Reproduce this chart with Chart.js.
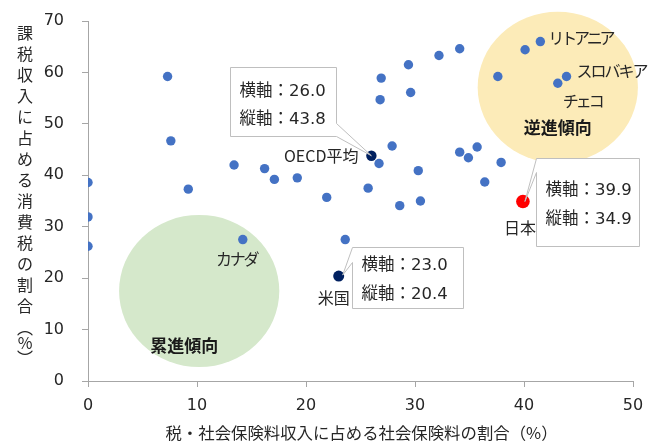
<!DOCTYPE html>
<html lang="ja">
<head>
<meta charset="utf-8">
<script src="https://cdn.jsdelivr.net/npm/chart.js@4.4.1/dist/chart.umd.min.js"></script>
<style>
  html, body { margin: 0; padding: 0; background: #fff; }
  #wrap { width: 659px; height: 442px; position: relative; }
</style>
</head>
<body>
<div id="wrap"><canvas id="chart"></canvas></div>
<script>
// 税・社会保険料収入に占める社会保険料の割合 (x) と 課税収入に占める消費税の割合 (y)
const socialShare = [0, 0, 0, 7.3, 7.6, 9.2, 13.4, 16.2, 17.1, 19.2, 21.9, 14.2, 23.6, 26.7, 25.7,
  26.9, 26.8, 29.4, 29.6, 32.2, 34.1, 27.9, 30.3, 30.5, 28.6, 34.1, 34.9, 35.7, 37.9, 36.4,
  37.6, 40.1, 41.5, 43.1, 43.9];
const consumptionShare = [38.6, 31.9, 26.2, 59.2, 46.7, 37.3, 42.0, 41.3, 39.2, 39.5, 35.7, 27.5, 27.5, 42.3, 37.5,
  58.9, 54.7, 61.5, 56.1, 63.3, 64.6, 45.7, 40.9, 35.0, 34.1, 44.5, 43.4, 45.5, 42.5, 38.7,
  59.2, 64.4, 66.0, 57.9, 59.2];
const countryNames = ['', '', '', '', '', '', '', '', '', '', '', 'カナダ', '', '', '',
  '', '', '', '', '', '', '', '', '', '', '', '', '', '', '',
  '', '', 'リトアニア', 'チェコ', 'スロバキア'];

const oecdAvg = { x: 26.0, y: 43.8 };
const usa = { x: 23.0, y: 20.4 };
const japan = { x: 39.9, y: 34.9 };

const xTicks = [0, 10, 20, 30, 40, 50];
const yTicks = [0, 10, 20, 30, 40, 50, 60, 70];

const yTitle = '課税収入に占める消費税の割合︵%︶';
const xTitle = '税・社会保険料収入に占める社会保険料の割合（%）';

const FONT_JP = '"Noto Sans CJK JP", "Noto Sans", sans-serif';
const FONT_NUM = '"DejaVu Sans", "Noto Sans CJK JP", sans-serif';
const TEXT = '#262626';
const AXIS = '#A6A6A6';

// label placement around a point: dx/dy in px, align, tracking for kana
const labelPos = {
  'カナダ':   { dx: -5, dy: 19, align: 'center', track: -2.3 },
  'リトアニア': { dx: 8, dy: -4, align: 'left', track: -3.2 },
  'チェコ':   { dx: 5, dy: 18, align: 'left', track: -3 },
  'スロバキア': { dx: 10, dy: -6, align: 'left', track: -2 },
};

// shaded tendency zones, in axis units
const zones = [
  { cx: 43.1, cy: 57.1, rx: 7.35, ry: 14.7, color: '#FCEBB8', text: '逆進傾向', tdx: 0, tdy: 40 },
  { cx: 10.2, cy: 17.5, rx: 7.35, ry: 14.8, color: '#D5E8CB', text: '累進傾向', tdx: -15, tdy: 55 },
];

// draws text char by char with extra tracking
function trackedText(ctx, str, x, y, align, track) {
  const chars = [...str];
  const widths = chars.map(c => ctx.measureText(c).width + track);
  const total = widths.reduce((a, b) => a + b, 0) - track;
  let cx = align === 'center' ? x - total / 2 : align === 'right' ? x - total : x;
  ctx.textAlign = 'left';
  chars.forEach((c, i) => { ctx.fillText(c, cx, y); cx += widths[i]; });
}

const zonePlugin = {
  id: 'zones',
  beforeDatasetsDraw(chart) {
    const { ctx, scales: { x, y } } = chart;
    ctx.save();
    zones.forEach(z => {
      const px = x.getPixelForValue(z.cx), py = y.getPixelForValue(z.cy);
      const rx = x.getPixelForValue(z.cx + z.rx) - px;
      const ry = py - y.getPixelForValue(z.cy + z.ry);
      ctx.fillStyle = z.color;
      ctx.beginPath();
      ctx.ellipse(px, py, rx, ry, 0, 0, Math.PI * 2);
      ctx.fill();
      ctx.fillStyle = '#1a1a1a';
      ctx.font = 'bold 17px ' + FONT_JP;
      ctx.textAlign = 'center';
      ctx.textBaseline = 'middle';
      ctx.fillText(z.text, px + z.tdx, py + z.tdy);
    });
    ctx.restore();
  }
};

// callout boxes: box relative to point, pointer base on one side
const callouts = [
  { pt: oecdAvg, box: [-141, -89, 106, 69], side: 'right', base: [56, 69], tip: [0, 0], text: [24, 52] },
  { pt: usa, box: [13, -29, 111, 61], side: 'left', base: [0, 15], tip: [4, -1], text: [18, 47] },
  { pt: japan, box: [13, -44, 103, 88], side: 'left', base: [0, 14], tip: [2, 0], text: [32, 61] },
];

const calloutPlugin = {
  id: 'callouts',
  afterDatasetsDraw(chart) {
    const { ctx, scales: { x, y } } = chart;
    ctx.save();
    // point labels
    ctx.font = '16px ' + FONT_JP;
    ctx.fillStyle = TEXT;
    ctx.textBaseline = 'middle';
    countryNames.forEach((n, i) => {
      if (!n) return;
      const p = labelPos[n];
      trackedText(ctx, n, x.getPixelForValue(socialShare[i]) + p.dx,
        y.getPixelForValue(consumptionShare[i]) + p.dy, p.align, p.track);
    });
    ctx.textAlign = 'right';
    ctx.fillText('OECD平均', x.getPixelForValue(oecdAvg.x) - 13, y.getPixelForValue(oecdAvg.y));
    ctx.textAlign = 'center';
    ctx.fillText('米国', x.getPixelForValue(usa.x) - 5, y.getPixelForValue(usa.y) + 22);
    ctx.fillText('日本', x.getPixelForValue(japan.x) - 3, y.getPixelForValue(japan.y) + 26);

    callouts.forEach(c => {
      const px = x.getPixelForValue(c.pt.x), py = y.getPixelForValue(c.pt.y);
      const [bx, by, bw, bh] = c.box;
      const L = Math.round(px + bx) + 0.5, T = Math.round(py + by) + 0.5;
      const R = L + bw, B = T + bh;
      const tx = px + c.tip[0], ty = py + c.tip[1];
      ctx.beginPath();
      if (c.side === 'right') {
        ctx.moveTo(L, T); ctx.lineTo(R, T);
        ctx.lineTo(R, T + c.base[0]); ctx.lineTo(tx, ty); ctx.lineTo(R, T + c.base[1]);
        ctx.lineTo(R, B); ctx.lineTo(L, B); ctx.closePath();
      } else {
        ctx.moveTo(L, T + c.base[0]); ctx.lineTo(L, T); ctx.lineTo(R, T);
        ctx.lineTo(R, B); ctx.lineTo(L, B); ctx.lineTo(L, T + c.base[1]);
        ctx.lineTo(tx, ty); ctx.closePath();
      }
      ctx.fillStyle = '#fff';
      ctx.fill();
      ctx.strokeStyle = '#BFBFBF';
      ctx.lineWidth = 1;
      ctx.stroke();
      ctx.fillStyle = TEXT;
      ctx.font = '16.5px ' + FONT_NUM;
      ctx.textAlign = 'left';
      ctx.fillText('横軸：' + c.pt.x.toFixed(1), L + 9, T + c.text[0]);
      ctx.fillText('縦軸：' + c.pt.y.toFixed(1), L + 9, T + c.text[1]);
    });
    ctx.restore();
  }
};

const titlePlugin = {
  id: 'axisTitles',
  afterDraw(chart) {
    const { ctx, chartArea } = chart;
    ctx.save();
    ctx.fillStyle = TEXT;
    ctx.font = '16px ' + FONT_JP;
    ctx.textAlign = 'center';
    ctx.textBaseline = 'middle';
    const chars = [...yTitle];
    chars.forEach((ch, i) => {
      let cy = 33 + i * 21;
      if (i >= 14) cy = 328 + (i - 14) * 15;
      ctx.fillText(ch, 25, cy);
    });
    ctx.font = '16.4px ' + FONT_JP;
    ctx.fillText(xTitle, (chartArea.left + chartArea.right) / 2 + 1, 433);
    ctx.restore();
  }
};

const pointSet = (label, data, color, r) => ({
  label, data, backgroundColor: color, borderWidth: 0,
  pointRadius: r, pointHoverRadius: r,
});

new Chart(document.getElementById('chart'), {
  type: 'scatter',
  data: {
    datasets: [
      pointSet('OECD諸国', socialShare.map((v, i) => ({ x: v, y: consumptionShare[i] })), '#4472C4', 4.7),
      pointSet('OECD平均', [oecdAvg], '#002060', 5.2),
      pointSet('米国', [usa], '#002060', 5.5),
      pointSet('日本', [japan], '#FF0000', 6.8),
    ]
  },
  options: {
    responsive: true,
    maintainAspectRatio: false,
    animation: false,
    layout: { padding: { left: 0, top: 21, right: 26, bottom: 0 } },
    plugins: { legend: { display: false }, tooltip: { enabled: false } },
    scales: {
      x: {
        type: 'linear', min: 0, max: 50,
        afterBuildTicks: s => { s.ticks = xTicks.map(v => ({ value: v })); },
        afterFit: s => { s.height = 61; },
        grid: { drawOnChartArea: false, drawTicks: true, tickLength: 6, color: AXIS },
        border: { color: AXIS, width: 1 },
        ticks: { color: TEXT, padding: 9, font: { family: FONT_NUM, size: 16 } },
      },
      y: {
        type: 'linear', min: 0, max: 70,
        afterBuildTicks: s => { s.ticks = yTicks.map(v => ({ value: v })); },
        afterFit: s => { s.width = 88; s.paddingTop = 0; s.paddingBottom = 0; },
        grid: { drawOnChartArea: false, drawTicks: true, tickLength: 6, color: AXIS },
        border: { color: AXIS, width: 1 },
        ticks: { color: TEXT, padding: 18, font: { family: FONT_NUM, size: 16 } },
      }
    }
  },
  plugins: [zonePlugin, calloutPlugin, titlePlugin]
});
</script>
</body>
</html>
